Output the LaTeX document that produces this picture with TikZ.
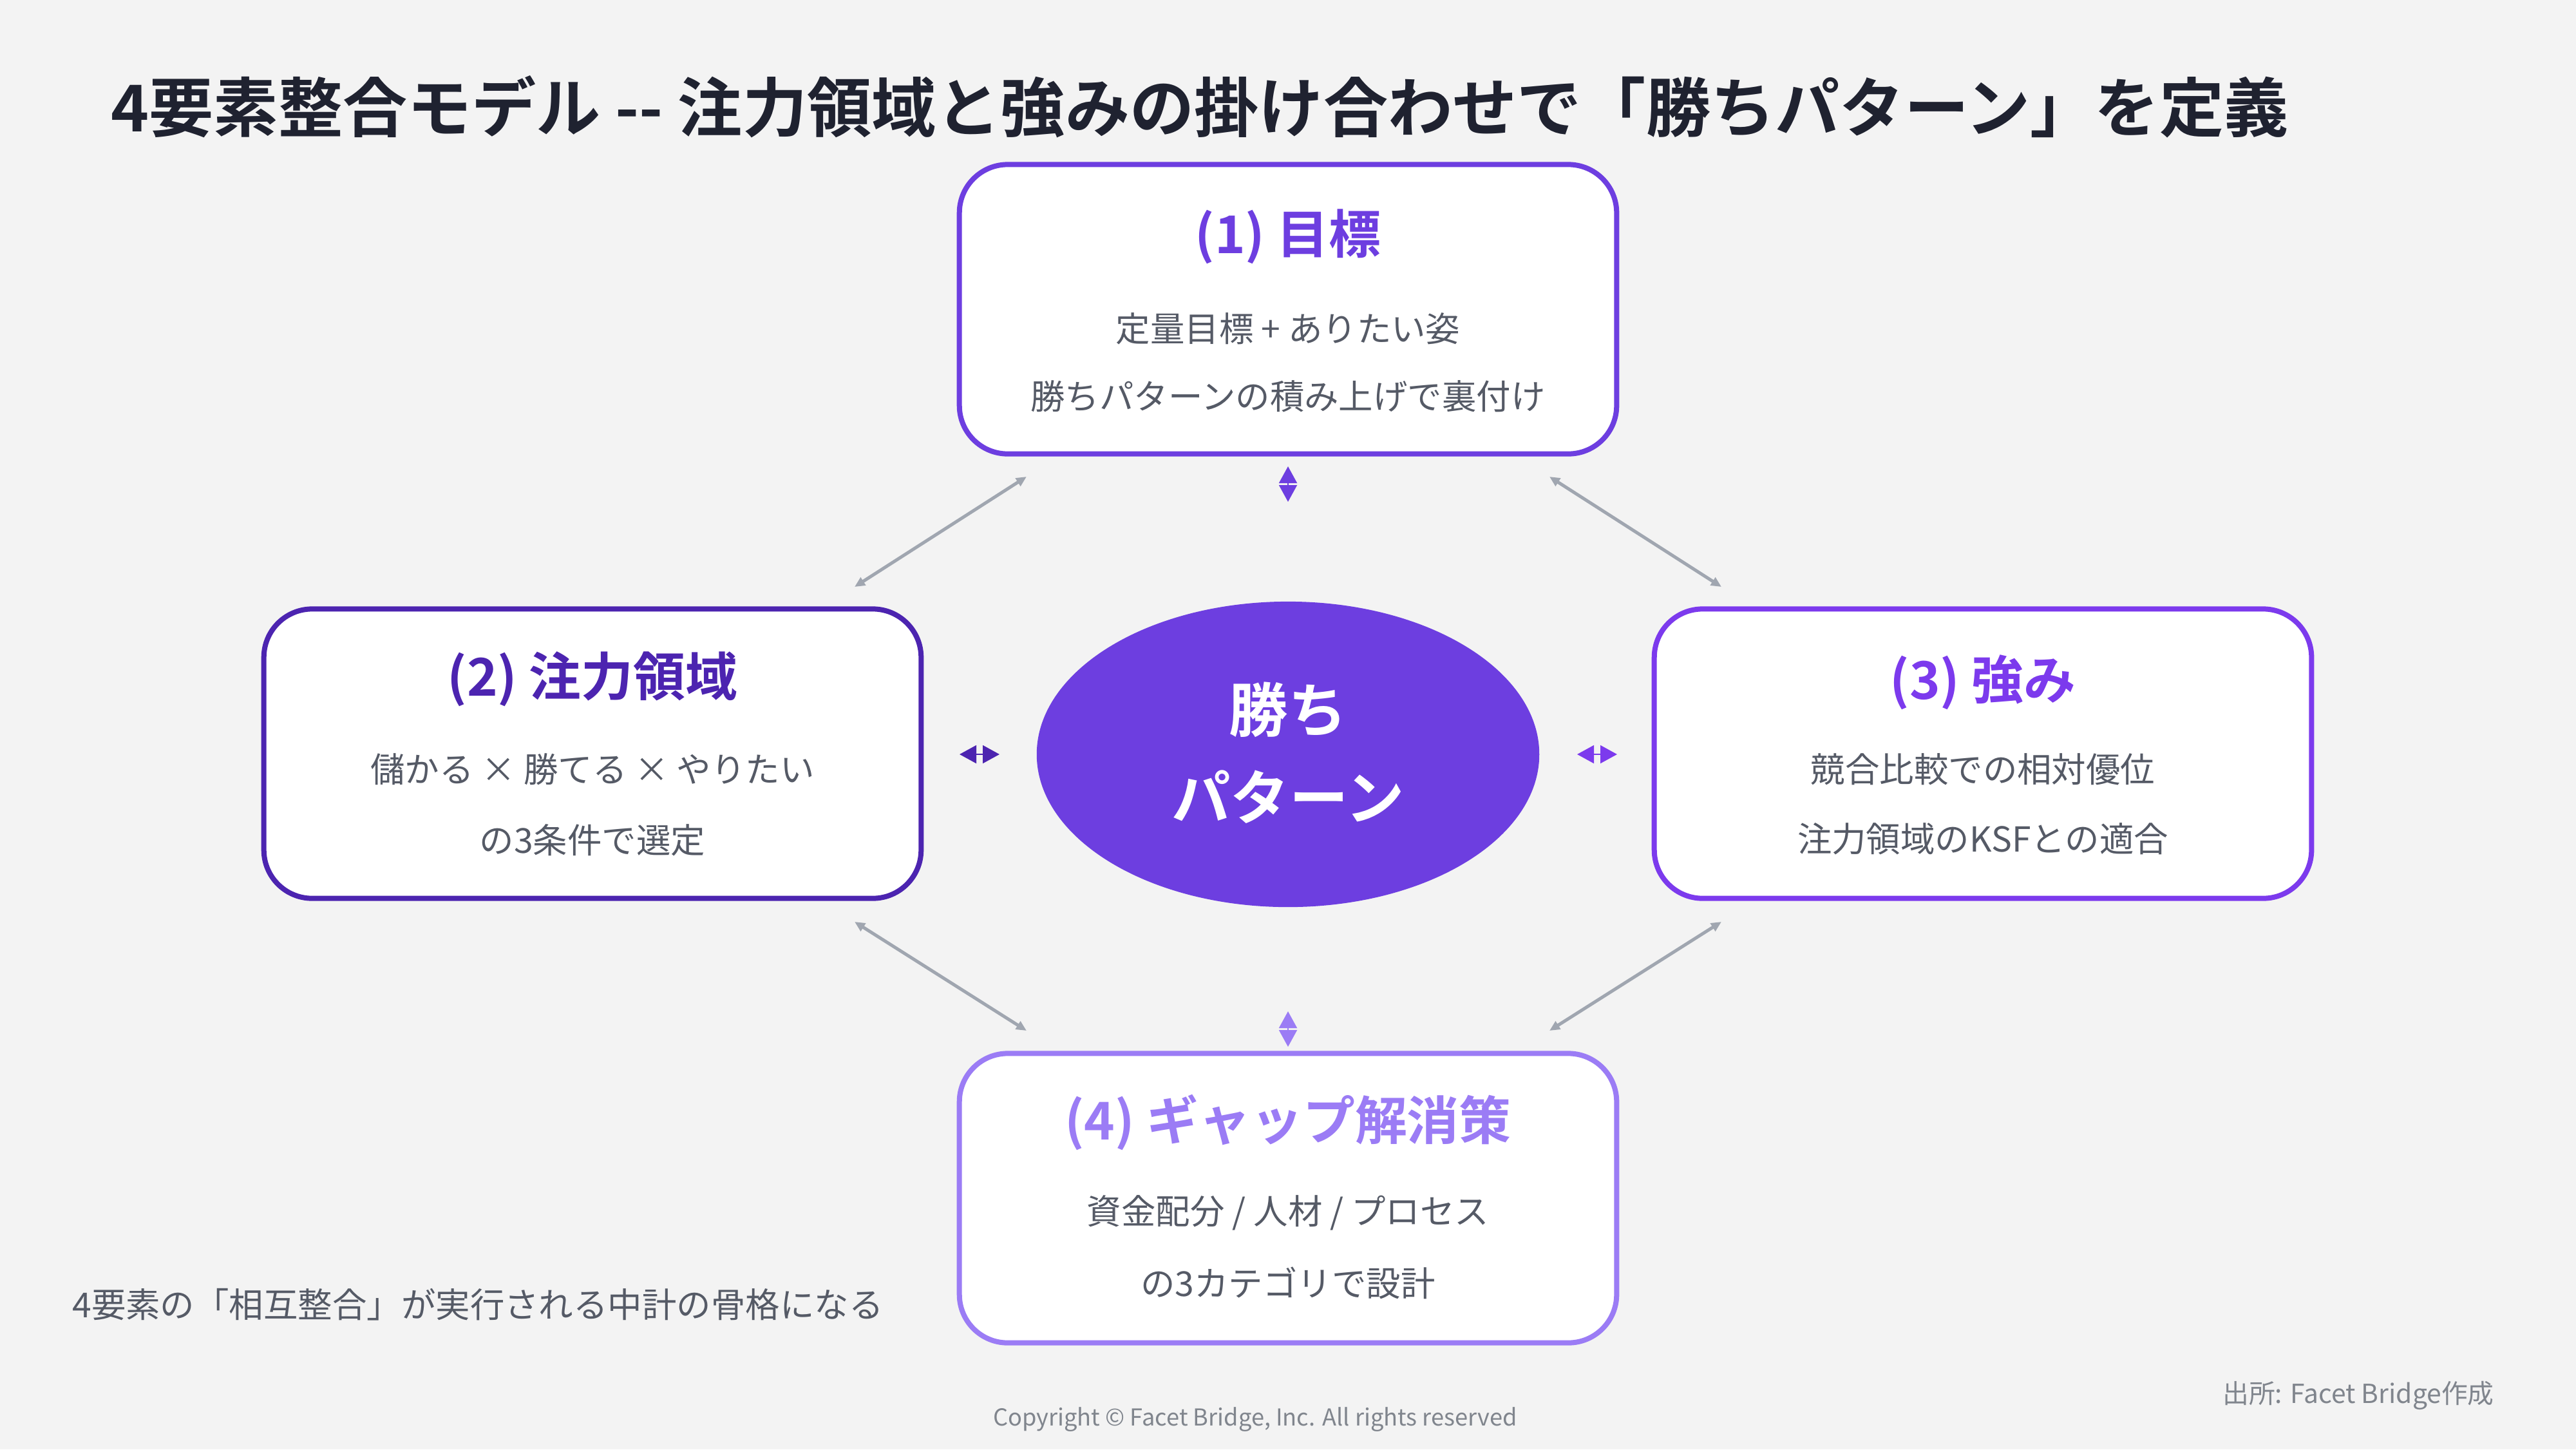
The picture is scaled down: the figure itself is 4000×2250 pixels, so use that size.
\documentclass[tikz,border=0pt]{standalone}
\usepackage{fontspec}
\setmainfont{Noto Sans CJK JP}[BoldFont={Noto Sans CJK JP Bold}]
\usetikzlibrary{arrows.meta,shapes.geometric}
\definecolor{bg}{HTML}{F3F3F3}
\definecolor{pA}{HTML}{6D3EE0}
\definecolor{pB}{HTML}{4C24B0}
\definecolor{pC}{HTML}{7C3AED}
\definecolor{pD}{HTML}{9B7CF5}
\definecolor{txt}{HTML}{555A66}
\definecolor{ttl}{HTML}{1F2230}
\definecolor{arr}{HTML}{A0A6B0}
\begin{document}
\begin{tikzpicture}[x=0.01cm,y=-0.01cm,
  box/.style={draw=#1,line width=0.08cm,fill=white,rounded corners=0.75cm,minimum width=10.2cm,minimum height=4.49cm},
  hd/.style={font=\fontsize{23}{27}\selectfont\bfseries,text=#1},
  bd/.style={font=\fontsize{15.2}{19}\selectfont,text=txt},
  conn/.style={draw=arr,line width=0.05cm,{Triangle[length=0.16cm,width=0.14cm]}-{Triangle[length=0.16cm,width=0.14cm]}},
  tiny/.style={line width=0.02cm,{Triangle[length=0.26cm,width=0.28cm]}-{Triangle[length=0.26cm,width=0.28cm]},draw=#1,fill=#1}]
\fill[bg] (0,0) rectangle (4000,2250);
\node[anchor=west,font=\fontsize{28.5}{33}\selectfont\bfseries,text=ttl] (title) at (160,166) {4要素整合モデル {-}{-} 注力領域と強みの掛け合わせで「勝ちパターン」を定義};
% boxes
\node[box=pA] (b1) at (2000,480) {};
\node[box=pB] (b2) at (920,1170) {};
\node[box=pC] (b3) at (3079,1170) {};
\node[box=pD] (b4) at (2000,1860) {};
\node[hd=pA] (h1) at (2000,367) {(1) 目標};
\node[bd] (t1a) at (2000,510) {定量目標 + ありたい姿};
\node[bd] (t1b) at (2000,615) {勝ちパターンの積み上げで裏付け};
\node[hd=pB] (h2) at (920,1054) {(2) 注力領域};
\node[bd] (t2a) at (920,1194) {儲かる × 勝てる × やりたい};
\node[bd] (t2b) at (920,1304) {の3条件で選定};
\node[hd=pC] (h3) at (3079,1059) {(3) 強み};
\node[bd] (t3a) at (3079,1194) {競合比較での相対優位};
\node[bd] (t3b) at (3079,1302) {注力領域のKSFとの適合};
\node[hd=pD] (h4) at (2000,1742) {(4) ギャップ解消策};
\node[bd] (t4a) at (2000,1883) {資金配分 / 人材 / プロセス};
\node[bd] (t4b) at (2000,1992) {の3カテゴリで設計};
% center
\node[ellipse,fill=pA,minimum width=7.8cm,minimum height=4.74cm,inner sep=0] (c) at (2000,1171) {};
\node[text=white,font=\fontsize{26}{31}\selectfont\bfseries] (c1) at (2000,1102) {勝ち};
\node[text=white,font=\fontsize{26}{31}\selectfont\bfseries] (c2) at (2000,1237) {パターン};
% diagonal connectors
\coordinate (d1a) at (1327,911); \coordinate (d1b) at (1594,740);
\coordinate (d2a) at (2406,740); \coordinate (d2b) at (2673,911);
\coordinate (d3a) at (1327,1431); \coordinate (d3b) at (1594,1600);
\coordinate (d4a) at (2406,1600); \coordinate (d4b) at (2673,1431);
\draw[conn] (d1a) -- (d1b);
\draw[conn] (d2a) -- (d2b);
\draw[conn] (d3a) -- (d3b);
\draw[conn] (d4a) -- (d4b);
% tiny connectors
\coordinate (u1) at (2000,724); \coordinate (u2) at (2000,779);
\coordinate (l1) at (1490,1171); \coordinate (l2) at (1552,1171);
\coordinate (r1) at (2449,1171); \coordinate (r2) at (2511,1171);
\coordinate (w1) at (2000,1570); \coordinate (w2) at (2000,1625);
\draw[tiny=pA] (u1) -- (u2);
\draw[tiny=pB] (l1) -- (l2);
\draw[tiny=pC] (r1) -- (r2);
\draw[tiny=pD] (w1) -- (w2);
% footer texts
\node[anchor=west,bd] (note) at (100,2025) {4要素の「相互整合」が実行される中計の骨格になる};
\node[text=arr!80!black,font=\fontsize{10.3}{12}\selectfont] (copy) at (1949,2204) {Copyright © Facet Bridge, Inc. All rights reserved};
\node[anchor=east,text=arr!80!black,font=\fontsize{11.6}{14}\selectfont] (src) at (3885,2166) {出所: Facet Bridge作成};
\end{tikzpicture}
\end{document}
